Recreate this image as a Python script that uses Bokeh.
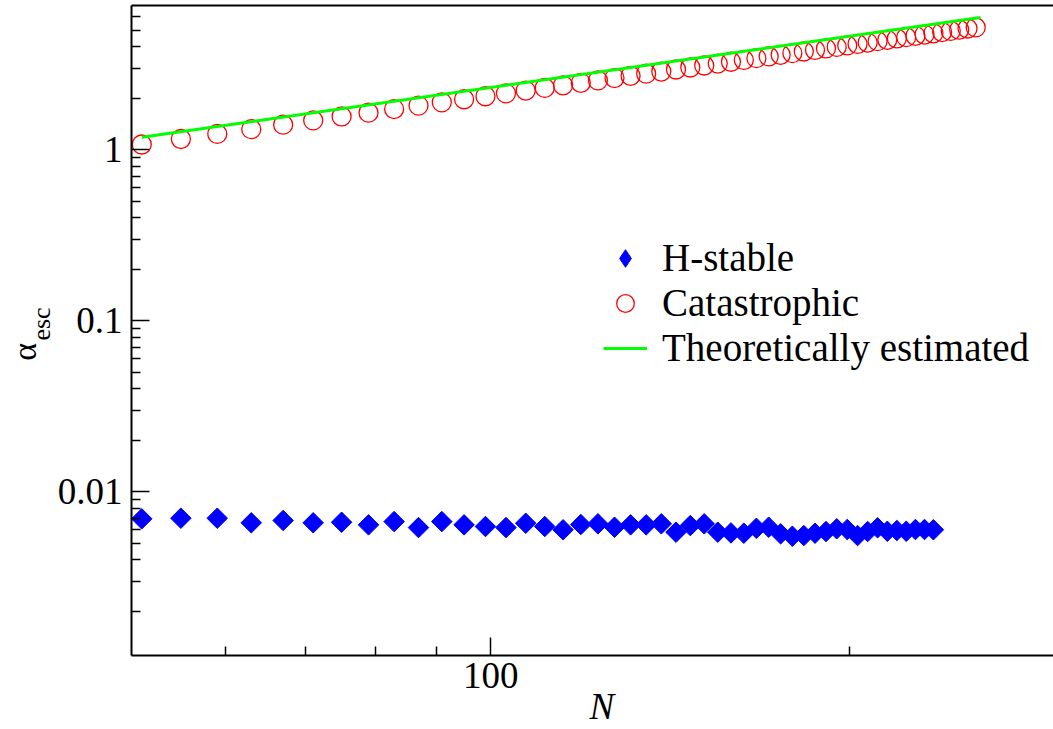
import numpy as np
from bokeh.plotting import figure
from bokeh.models import (FixedTicker, CustomJSTickFormatter, Legend, LegendItem, Range1d,
                          LogAxis)
from bokeh.embed import file_html
from bokeh.resources import INLINE

# ---- data ----
N_hstable = [51, 55, 59, 63, 67, 71, 75, 79, 83, 87, 91, 95, 99, 103, 107, 111, 115, 119,
             123, 127, 131, 135, 139, 143, 147, 151, 155, 159, 163, 167, 171, 175, 179, 183,
             187, 191, 195, 199, 203, 207, 211, 215, 219, 223, 227, 231, 235]
alpha_hstable = [0.00695, 0.00701, 0.00701, 0.00659, 0.00680, 0.00659, 0.00664, 0.00641,
                 0.00670, 0.00618, 0.00670, 0.00641, 0.00627, 0.00618, 0.00655, 0.00627,
                 0.00600, 0.00644, 0.00650, 0.00621, 0.00641, 0.00641, 0.00650, 0.00581,
                 0.00635, 0.00650, 0.00581, 0.00575, 0.00573, 0.00612, 0.00621, 0.00568,
                 0.00550, 0.00555, 0.00573, 0.00586, 0.00608, 0.00602, 0.00555, 0.00586,
                 0.00616, 0.00588, 0.00594, 0.00588, 0.00602, 0.00602, 0.00600]

N_cat = [51, 55, 59, 63, 67, 71, 75, 79, 83, 87, 91, 95, 99, 103, 107, 111, 115, 119, 123,
         127, 131, 135, 139, 143, 147, 151, 155, 159, 163, 167, 171, 175, 179, 183, 187, 191,
         195, 199, 203, 207, 211, 215, 219, 223, 227, 231, 235, 239, 243, 247, 251, 255]
alpha_cat = [1.074, 1.157, 1.239, 1.321, 1.403, 1.485, 1.567, 1.649, 1.731, 1.813, 1.894,
             1.976, 2.057, 2.138, 2.220, 2.301, 2.382, 2.463, 2.545, 2.626, 2.707, 2.788,
             2.869, 2.949, 3.030, 3.112, 3.192, 3.272, 3.353, 3.434, 3.515, 3.595, 3.676,
             3.756, 3.836, 3.916, 3.997, 4.078, 4.158, 4.238, 4.319, 4.398, 4.478, 4.559,
             4.638, 4.719, 4.799, 4.879, 4.959, 5.039, 5.120, 5.198]

N_theory = [51.0, 257.4]
alpha_theory = [1.185, 5.94]

x_major_ticks = [100]
x_minor_ticks = [60, 70, 80, 90, 200]
y_major_ticks = [0.01, 0.1, 1]
y_minor_ticks = [0.002, 0.003, 0.004, 0.005, 0.006, 0.007, 0.008, 0.009,
                 0.02, 0.03, 0.04, 0.05, 0.06, 0.07, 0.08, 0.09,
                 0.2, 0.3, 0.4, 0.5, 0.6, 0.7, 0.8, 0.9,
                 2, 3, 4, 5, 6, 7]

SERIF = "Liberation Serif"
NB = "\u00a0"

p = figure(width=1053, height=729, x_axis_type="log", y_axis_type="log",
           x_range=Range1d(50, 296.3), y_range=Range1d(0.001104, 6.98),
           output_backend="svg", toolbar_location=None,
           min_border_left=131, min_border_right=0, min_border_top=5, min_border_bottom=74)

p.background_fill_color = "white"
p.border_fill_color = "white"
p.outline_line_color = None
p.xgrid.visible = False
p.ygrid.visible = False

fmt = CustomJSTickFormatter(code="return tick.toString();")
for ax, maj, mnr, stand in ((p.xaxis[0], x_major_ticks, x_minor_ticks, 7),
                            (p.yaxis[0], y_major_ticks, y_minor_ticks, 9)):
    ax.ticker = FixedTicker(ticks=maj, minor_ticks=mnr)
    ax.formatter = fmt
    ax.axis_line_color = "black"
    ax.axis_line_width = 2
    ax.major_tick_line_color = "black"
    ax.major_tick_line_width = 1.5
    ax.minor_tick_line_color = "black"
    ax.minor_tick_line_width = 1.5
    ax.major_tick_in = 18
    ax.major_tick_out = 0
    ax.minor_tick_in = 9
    ax.minor_tick_out = 0
    ax.major_label_text_font = SERIF
    ax.major_label_text_font_size = "37px"
    ax.major_label_text_color = "black"
    ax.major_label_standoff = stand
    ax.axis_label_text_font = SERIF
    ax.axis_label_text_color = "black"

# x title
p.xaxis[0].axis_label = NB + NB + "N"
p.xaxis[0].axis_label_text_font_style = "italic"
p.xaxis[0].axis_label_text_font_size = "37px"
p.xaxis[0].axis_label_standoff = -5

# y title: subscript "esc" on the main axis, "α" on an outer, bare axis
p.yaxis[0].axis_label = NB * 2 + "esc"
p.yaxis[0].axis_label_text_font_style = "normal"
p.yaxis[0].axis_label_text_font_size = "26px"
p.yaxis[0].axis_label_standoff = -1

alpha_axis = LogAxis(ticker=FixedTicker(ticks=[], minor_ticks=[]),
                     axis_line_color=None, major_tick_line_color=None,
                     minor_tick_line_color=None, major_label_standoff=0,
                     major_tick_in=0, major_tick_out=0, minor_tick_in=0, minor_tick_out=0,
                     axis_label="α" + NB * 5, axis_label_standoff=-19,
                     axis_label_text_font=SERIF, axis_label_text_font_size="34px",
                     axis_label_text_font_style="normal", axis_label_text_color="black")
p.add_layout(alpha_axis, "left")

# top frame line (the reference shows no right edge)
top_axis = LogAxis(ticker=FixedTicker(ticks=[], minor_ticks=[]),
                   axis_line_color="black", axis_line_width=2,
                   major_tick_line_color=None, minor_tick_line_color=None,
                   major_label_standoff=0, major_tick_in=0, major_tick_out=0,
                   minor_tick_in=0, minor_tick_out=0)
p.add_layout(top_axis, "above")

r_cat = p.scatter(N_cat, alpha_cat, marker="circle", size=19, fill_color=None,
                  line_color="#ff0000", line_width=1.3)
r_th = p.line(N_theory, alpha_theory, line_color="#00ff00", line_width=3)
r_hs = p.scatter(N_hstable, alpha_hstable, marker="square", angle=np.pi / 4, size=14.5,
                 fill_color="#0000ff", line_color="#0000ff")
# hidden twin of the H-stable series, used only for its (unrotated) diamond legend key
r_hs_key = p.scatter(N_hstable, alpha_hstable, marker="diamond", size=20,
                     fill_color="#0000ff", line_color="#0000ff", visible=False)

legend = Legend(items=[LegendItem(label="H-stable", renderers=[r_hs_key]),
                       LegendItem(label="Catastrophic", renderers=[r_cat]),
                       LegendItem(label="Theoretically estimated", renderers=[r_th])],
                location=(472, 285))
legend.border_line_color = None
legend.background_fill_alpha = 0
legend.padding = 0
legend.margin = 0
legend.spacing = 0
legend.glyph_width = 44
legend.glyph_height = 44
legend.label_standoff = 15
legend.label_text_font = SERIF
legend.label_text_font_size = "39px"
legend.label_text_color = "black"
p.add_layout(legend)

open("out.html", "w").write(file_html(p, INLINE))
